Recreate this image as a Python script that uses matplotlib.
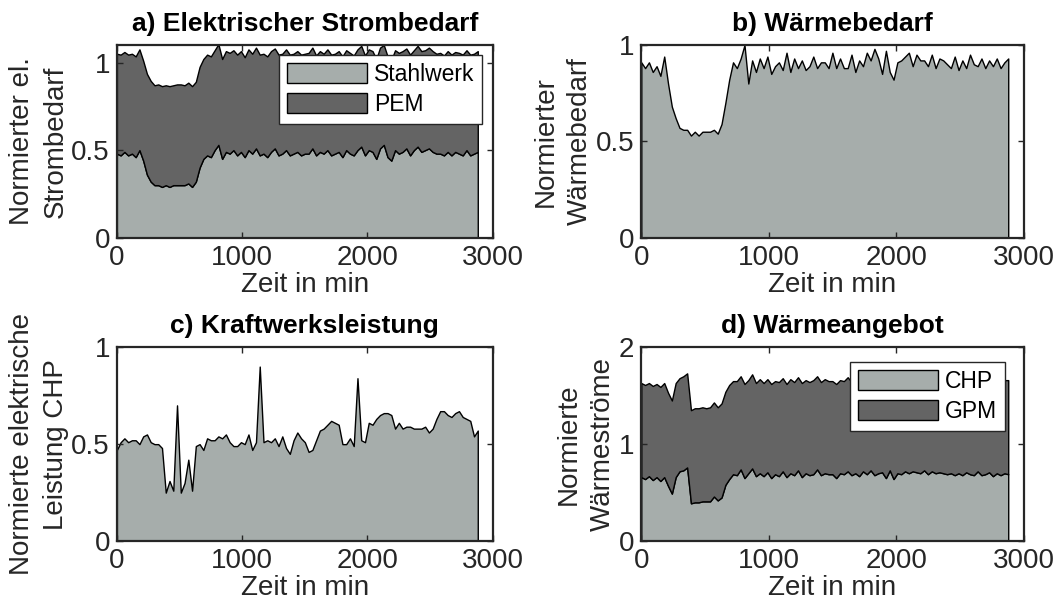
import numpy as np
import matplotlib
matplotlib.use("Agg")
import matplotlib.pyplot as plt

plt.rcParams['font.family'] = ['Liberation Sans', 'DejaVu Sans']

# Zeitschritt 30 min, 0 ... 2880 min
dt = 30

# a) Elektrischer Strombedarf
stahlwerk = [0.48, 0.47, 0.49, 0.47, 0.48, 0.46, 0.50, 0.44, 0.36, 0.32,
             0.30, 0.30, 0.29, 0.30, 0.29, 0.30, 0.30, 0.30, 0.30, 0.31,
             0.29, 0.32, 0.40, 0.45, 0.47, 0.46, 0.50, 0.53, 0.45, 0.49,
             0.48, 0.50, 0.47, 0.49, 0.46, 0.50, 0.48, 0.51, 0.47, 0.48,
             0.46, 0.49, 0.51, 0.47, 0.48, 0.50, 0.47, 0.48, 0.49, 0.47,
             0.48, 0.48, 0.51, 0.47, 0.49, 0.48, 0.50, 0.47, 0.48, 0.49,
             0.46, 0.50, 0.48, 0.47, 0.50, 0.52, 0.47, 0.50, 0.49, 0.45,
             0.51, 0.53, 0.46, 0.44, 0.50, 0.48, 0.49, 0.51, 0.47, 0.50,
             0.52, 0.49, 0.50, 0.51, 0.49, 0.48, 0.48, 0.47, 0.49, 0.47,
             0.49, 0.48, 0.47, 0.50, 0.47, 0.48, 0.49]
pem = [0.57, 0.575, 0.57, 0.575, 0.57, 0.575, 0.575, 0.57, 0.575, 0.575,
       0.57, 0.575, 0.575, 0.57, 0.575, 0.57, 0.575, 0.575, 0.57, 0.575,
       0.575, 0.57, 0.575, 0.57, 0.575, 0.575, 0.57, 0.575, 0.57, 0.575,
       0.575, 0.57, 0.575, 0.575, 0.57, 0.575, 0.57, 0.575, 0.575, 0.57,
       0.575, 0.575, 0.57, 0.575, 0.57, 0.575, 0.575, 0.57, 0.575, 0.575,
       0.57, 0.575, 0.575, 0.57, 0.575, 0.57, 0.575, 0.575, 0.57, 0.575,
       0.575, 0.57, 0.575, 0.57, 0.575, 0.575, 0.57, 0.575, 0.575, 0.57,
       0.575, 0.57, 0.575, 0.575, 0.57, 0.575, 0.575, 0.57, 0.575, 0.57,
       0.575, 0.575, 0.57, 0.575, 0.575, 0.57, 0.575, 0.57, 0.575, 0.575,
       0.57, 0.575, 0.575, 0.57, 0.575, 0.57, 0.575]

# b) Waermebedarf
waerme = [0.91, 0.88, 0.91, 0.86, 0.89, 0.84, 0.94, 0.80, 0.68, 0.62,
          0.57, 0.56, 0.56, 0.53, 0.55, 0.53, 0.55, 0.55, 0.55, 0.56,
          0.54, 0.59, 0.70, 0.82, 0.91, 0.88, 0.93, 1.00, 0.80, 0.92,
          0.86, 0.93, 0.88, 0.94, 0.85, 0.89, 0.91, 0.87, 0.96, 0.86,
          0.93, 0.88, 0.92, 0.87, 0.89, 0.94, 0.88, 0.91, 0.91, 0.88,
          0.96, 0.88, 0.93, 0.88, 0.88, 0.95, 0.86, 0.92, 0.89, 0.96,
          0.92, 0.98, 0.93, 0.85, 0.97, 0.86, 0.82, 0.91, 0.92, 0.94,
          0.96, 0.89, 0.95, 0.92, 0.92, 0.89, 0.95, 0.88, 0.93, 0.92,
          0.90, 0.88, 0.94, 0.87, 0.92, 0.88, 0.95, 0.90, 0.89, 0.93,
          0.88, 0.92, 0.89, 0.93, 0.88, 0.91, 0.93]

# c) Kraftwerksleistung
kraftwerk = [0.47, 0.51, 0.53, 0.51, 0.52, 0.52, 0.50, 0.54, 0.55, 0.51,
             0.50, 0.50, 0.48, 0.25, 0.31, 0.26, 0.70, 0.25, 0.30, 0.42,
             0.26, 0.49, 0.50, 0.47, 0.53, 0.52, 0.52, 0.54, 0.53, 0.55,
             0.51, 0.49, 0.49, 0.51, 0.50, 0.55, 0.47, 0.51, 0.90, 0.51,
             0.52, 0.51, 0.53, 0.49, 0.54, 0.48, 0.45, 0.52, 0.56, 0.53,
             0.51, 0.46, 0.47, 0.52, 0.57, 0.58, 0.60, 0.62, 0.61, 0.60,
             0.50, 0.50, 0.53, 0.49, 0.84, 0.52, 0.51, 0.61, 0.60, 0.63,
             0.65, 0.66, 0.66, 0.65, 0.58, 0.61, 0.58, 0.59, 0.59, 0.58,
             0.58, 0.58, 0.59, 0.56, 0.58, 0.63, 0.67, 0.67, 0.65, 0.64,
             0.66, 0.67, 0.64, 0.63, 0.62, 0.54, 0.57]

# d) Waermeangebot
chp = [0.66, 0.64, 0.67, 0.63, 0.66, 0.62, 0.66, 0.57, 0.49, 0.66,
       0.72, 0.73, 0.76, 0.39, 0.40, 0.40, 0.41, 0.41, 0.41, 0.46,
       0.42, 0.45, 0.58, 0.64, 0.69, 0.68, 0.74, 0.65, 0.70, 0.75,
       0.67, 0.70, 0.67, 0.71, 0.65, 0.69, 0.67, 0.72, 0.66, 0.70,
       0.68, 0.73, 0.66, 0.70, 0.68, 0.69, 0.74, 0.68, 0.70, 0.69,
       0.69, 0.65, 0.70, 0.69, 0.72, 0.68, 0.70, 0.67, 0.72, 0.69,
       0.73, 0.68, 0.70, 0.71, 0.65, 0.73, 0.64, 0.70, 0.69, 0.72,
       0.70, 0.72, 0.71, 0.70, 0.73, 0.69, 0.72, 0.70, 0.71, 0.70,
       0.69, 0.70, 0.68, 0.70, 0.68, 0.71, 0.69, 0.68, 0.72, 0.68,
       0.69, 0.71, 0.67, 0.70, 0.68, 0.70, 0.69]
gpm = [0.97, 0.97, 0.96, 0.97, 0.96, 0.97, 0.97, 0.96, 0.96, 0.97,
       0.96, 0.97, 0.97, 0.96, 0.97, 0.97, 0.97, 0.96, 0.97, 0.97,
       0.96, 0.97, 0.96, 0.97, 0.96, 0.97, 0.96, 0.97, 0.96, 0.97,
       0.96, 0.97, 0.96, 0.96, 0.97, 0.96, 0.97, 0.96, 0.96, 0.97,
       0.96, 0.96, 0.97, 0.96, 0.96, 0.97, 0.96, 0.96, 0.97, 0.96,
       0.96, 0.97, 0.96, 0.96, 0.97, 0.96, 0.96, 0.97, 0.96, 0.96,
       0.96, 0.97, 0.96, 0.96, 0.97, 0.96, 0.96, 0.97, 0.96, 0.96,
       0.96, 0.97, 0.96, 0.96, 0.96, 0.97, 0.96, 0.96, 0.97, 0.96,
       0.96, 0.96, 0.97, 0.96, 0.96, 0.97, 0.96, 0.96, 0.96, 0.97,
       0.96, 0.96, 0.97, 0.96, 0.96, 0.96, 0.97]

hell = '#a6adab'
dunkel = '#646464'
fs = 20

fig = plt.figure(figsize=(10.53, 6.08), dpi=100)
ax_a = fig.add_axes([0.111, 0.609, 0.357, 0.317])
ax_b = fig.add_axes([0.609, 0.609, 0.363, 0.317])
ax_c = fig.add_axes([0.111, 0.110, 0.357, 0.319])
ax_d = fig.add_axes([0.609, 0.110, 0.363, 0.319])


def zeit(werte):
    return np.arange(len(werte)) * dt


def stil(ax, titel, ylabel, ylim, yticks, yticklabels):
    ax.set_xlim(0, 3000)
    ax.set_ylim(*ylim)
    ax.set_xticks([0, 1000, 2000, 3000])
    ax.set_yticks(yticks)
    ax.set_yticklabels(yticklabels)
    ax.tick_params(direction='in', top=True, right=True, labelsize=fs,
                   length=4, width=1, colors='#262626', pad=5)
    for s in ax.spines.values():
        s.set_linewidth(1.6)
        s.set_color('#262626')
    ax.set_title(titel, fontsize=19, fontweight='bold', pad=10)
    ax.set_xlabel('Zeit in min', fontsize=fs, color='#262626', labelpad=1)
    ax.set_ylabel(ylabel, fontsize=fs, color='#262626', labelpad=2,
                  linespacing=1.4)


def legende(ax, anker):
    leg = ax.legend(loc='upper right', bbox_to_anchor=anker,
                    borderaxespad=0, fontsize=16.5, handlelength=3.5,
                    handleheight=0.95, borderpad=0.35, labelspacing=0.3,
                    handletextpad=0.3, fancybox=False, framealpha=1,
                    edgecolor='#262626')
    leg.get_frame().set_linewidth(1)


# a)
ax_a.stackplot(zeit(stahlwerk), stahlwerk, pem, colors=[hell, dunkel],
               edgecolor='k', linewidth=1, labels=['Stahlwerk', 'PEM'])
stil(ax_a, 'a) Elektrischer Strombedarf', 'Normierter el.\nStrombedarf',
     (0, 1.1), [0, 0.5, 1], ['0', '0.5', '1'])
legende(ax_a, (0.972, 0.948))

# b)
ax_b.fill_between(zeit(waerme), 0, waerme, facecolor=hell, edgecolor='k',
                  linewidth=1)
stil(ax_b, 'b) Wärmebedarf', 'Normierter\nWärmebedarf',
     (0, 1), [0, 0.5, 1], ['0', '0.5', '1'])

# c)
ax_c.fill_between(zeit(kraftwerk), 0, kraftwerk, facecolor=hell,
                  edgecolor='k', linewidth=1)
stil(ax_c, 'c) Kraftwerksleistung', 'Normierte elektrische\nLeistung CHP',
     (0, 1), [0, 0.5, 1], ['0', '0.5', '1'])

# d)
ax_d.stackplot(zeit(chp), chp, gpm, colors=[hell, dunkel],
               edgecolor='k', linewidth=1, labels=['CHP', 'GPM'])
stil(ax_d, 'd) Wärmeangebot', 'Normierte\nWärmeströme',
     (0, 2), [0, 1, 2], ['0', '1', '2'])
legende(ax_d, (0.952, 0.924))

fig.savefig('out.png', dpi=100)
